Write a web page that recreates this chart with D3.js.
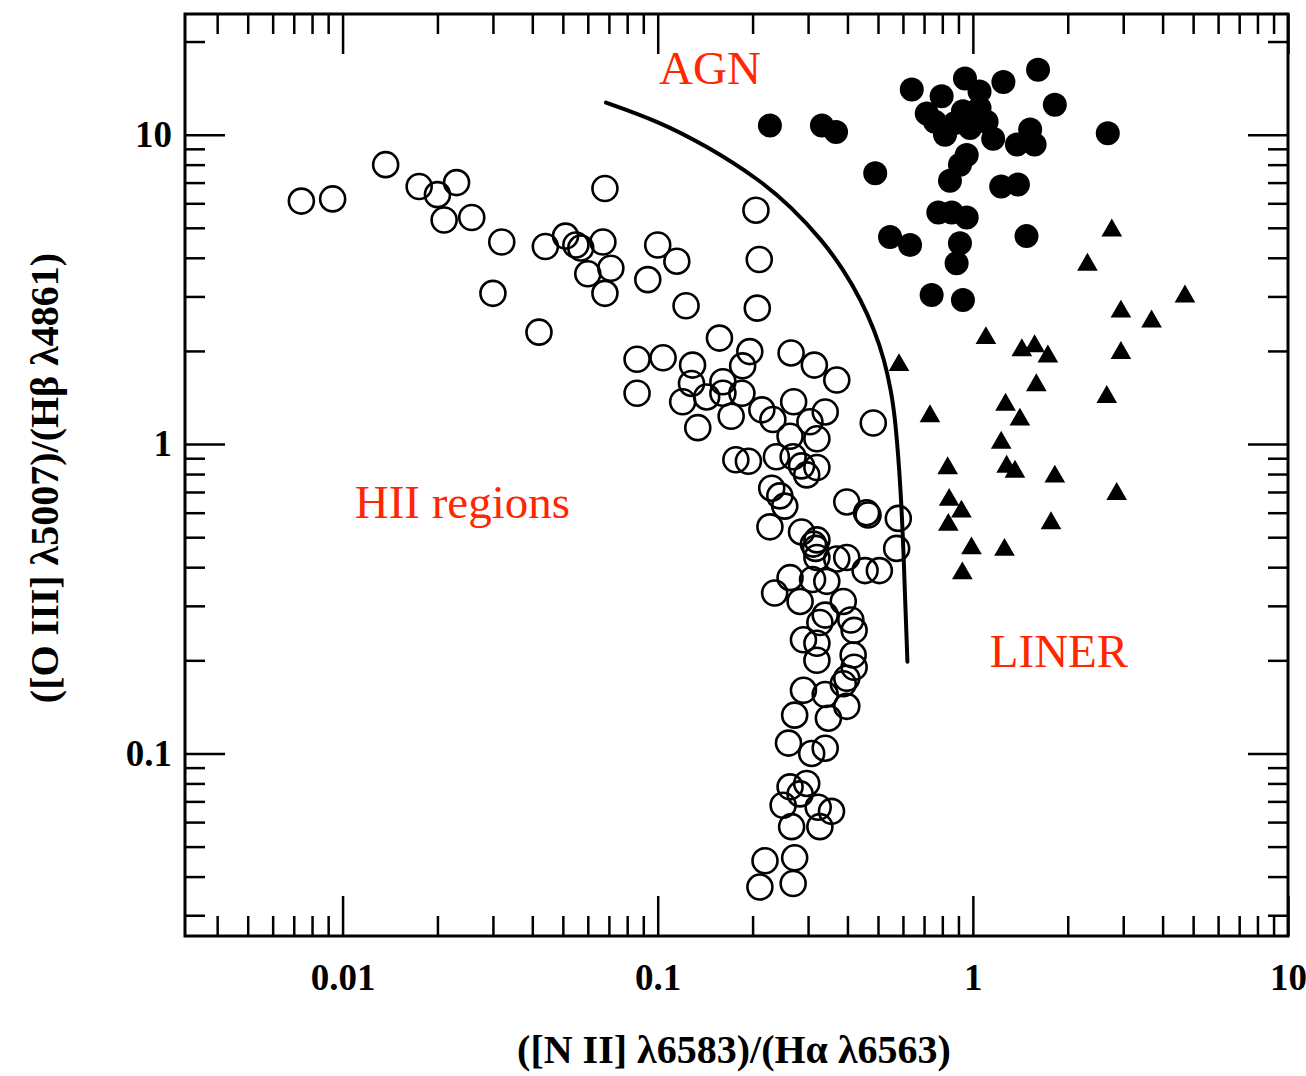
<!DOCTYPE html>
<html>
<head>
<meta charset="utf-8">
<script src="https://cdn.jsdelivr.net/npm/d3@7"></script>
<style>
  body { margin: 0; background: #fff; }
  text { font-family: "Liberation Serif", "Times New Roman", serif; }
</style>
</head>
<body>
<div id="canvas"></div>
<script>
// HII regions (open circles)
var hiiX = [0.0074, 0.0093, 0.0137, 0.0175, 0.020, 0.023, 0.021, 0.0257, 0.032, 0.044,
  0.051, 0.055, 0.057, 0.067, 0.060, 0.071, 0.068, 0.068, 0.030, 0.042,
  0.10, 0.115, 0.093, 0.205, 0.21, 0.123, 0.207, 0.157, 0.086, 0.104,
  0.129, 0.196, 0.186, 0.265, 0.314, 0.37, 0.086, 0.128, 0.12, 0.143,
  0.161, 0.161, 0.185, 0.171, 0.134, 0.214, 0.232, 0.27, 0.34, 0.304,
  0.32, 0.263, 0.483, 0.177, 0.194, 0.238, 0.269, 0.32, 0.286, 0.297,
  0.23, 0.244, 0.253, 0.227, 0.398, 0.46, 0.465, 0.58, 0.286, 0.32,
  0.317, 0.32, 0.312, 0.573, 0.398, 0.37, 0.505, 0.455, 0.263, 0.235,
  0.283, 0.31, 0.344, 0.388, 0.34, 0.327, 0.41, 0.42, 0.29, 0.32,
  0.32, 0.417, 0.42, 0.398, 0.388, 0.29, 0.34, 0.398, 0.348, 0.272,
  0.26, 0.308, 0.34, 0.263, 0.297, 0.283, 0.25, 0.323, 0.356, 0.327,
  0.266, 0.272, 0.219, 0.211, 0.269];
var hiiY = [6.1, 6.2, 8.0, 6.8, 6.4, 7.0, 5.3, 5.4, 4.5, 4.35,
  4.7, 4.4, 4.3, 4.5, 3.55, 3.7, 3.07, 6.7, 3.07, 2.3,
  4.4, 3.9, 3.4, 5.7, 3.95, 2.8, 2.75, 2.2, 1.88, 1.9,
  1.8, 1.99, 1.79, 1.97, 1.8, 1.61, 1.46, 1.57, 1.37, 1.42,
  1.59, 1.46, 1.46, 1.23, 1.13, 1.29, 1.2, 1.37, 1.27, 1.18,
  1.04, 1.06, 1.17, 0.89, 0.88, 0.91, 0.91, 0.84, 0.85, 0.795,
  0.72, 0.68, 0.63, 0.54, 0.65, 0.60, 0.59, 0.575, 0.52, 0.49,
  0.46, 0.43, 0.475, 0.46, 0.43, 0.425, 0.39, 0.39, 0.37, 0.33,
  0.31, 0.365, 0.36, 0.31, 0.28, 0.265, 0.27, 0.25, 0.233, 0.227,
  0.20, 0.208, 0.19, 0.175, 0.168, 0.16, 0.155, 0.142, 0.13, 0.133,
  0.108, 0.10, 0.104, 0.078, 0.080, 0.074, 0.068, 0.067, 0.065, 0.058,
  0.058, 0.046, 0.045, 0.037, 0.038];

// AGN / Seyfert (filled circles)
var agnX = [0.227, 0.332, 0.368, 0.49, 0.546, 0.632, 0.64, 0.796, 0.714, 0.758,
  0.816, 0.944, 1.05, 1.25, 1.61, 1.82, 0.93, 1.05, 1.106, 0.98,
  1.16, 1.52, 1.38, 1.57, 0.956, 0.91, 0.846, 1.23, 1.39, 0.777,
  0.857, 0.956, 1.48, 0.91, 0.888, 0.74, 0.93, 2.68, 0.877, 1.0];
var agnY = [10.7, 10.7, 10.2, 7.5, 4.67, 4.4, 14.0, 13.3, 11.7, 11.0,
  10.0, 15.2, 13.8, 14.8, 16.2, 12.5, 11.9, 12.2, 11.0, 10.5,
  9.7, 10.4, 9.3, 9.3, 8.6, 8.0, 7.1, 6.8, 6.9, 5.6,
  5.6, 5.4, 4.7, 4.46, 3.84, 3.03, 2.92, 10.1, 10.9, 11.5];

// LINER (filled triangles)
var linerX = [2.76, 2.31, 4.71, 2.95, 3.69, 1.10, 1.43, 1.57, 1.73, 2.95,
  0.583, 1.59, 2.66, 1.27, 1.41, 0.731, 1.23, 0.832, 1.28, 1.36,
  1.82, 2.86, 0.841, 0.92, 0.836, 1.77, 0.99, 1.26, 0.926];
var linerY = [4.9, 3.8, 3.0, 2.68, 2.49, 2.2, 2.01, 2.07, 1.92, 1.97,
  1.8, 1.55, 1.42, 1.34, 1.2, 1.23, 1.01, 0.835, 0.845, 0.814,
  0.785, 0.69, 0.66, 0.605, 0.548, 0.555, 0.46, 0.455, 0.382];

// dividing curve between HII regions and AGN/LINER
var curveX = [0.0685, 0.0994, 0.143, 0.211, 0.265, 0.332, 0.389, 0.4415, 0.487, 0.524,
  0.5495, 0.568, 0.591, 0.604, 0.613, 0.62];
var curveY = [12.7, 11.1, 9.2, 7.14, 5.84, 4.57, 3.654, 2.922, 2.338, 1.87,
  1.496, 1.2, 0.71, 0.42, 0.27, 0.198];

var xMajor = [0.01, 0.1, 1, 10];
var xTickLabels = ["0.01", "0.1", "1", "10"];
var yMajor = [0.1, 1, 10];
var yTickLabels = ["0.1", "1", "10"];

var labelText = ["AGN", "HII regions", "LINER"];
var labelX = [0.1465, 0.024, 1.876];
var labelY = [14.6, 0.577, 0.19];

var xTitle = "([N II] \u03bb6583)/(H\u03b1 \u03bb6563)";
var yTitle = "([O III] \u03bb5007)/(H\u03b2 \u03bb4861)";

var W = 1306, H = 1076;
var L = 185, R = 1288, T = 14, B = 936;

var svg = d3.select("#canvas").append("svg")
  .attr("width", W).attr("height", H)
  .style("background", "#fff");

var x = d3.scaleLog().domain([Math.pow(10, -2.5), 10]).range([L, R]);
var y = d3.scaleLog().domain([Math.pow(10, -1.59), Math.pow(10, 1.39)]).range([B, T]);

var xMinor = x.ticks().filter(function(d) { return xMajor.indexOf(+d.toPrecision(6)) < 0; });
var yMinor = y.ticks().filter(function(d) { return yMajor.indexOf(+d.toPrecision(6)) < 0; });

function fmt(majors, labels) {
  return function(d) { return labels[majors.indexOf(d)]; };
}

function styleAxis(g) {
  g.select(".domain").remove();
  g.selectAll(".tick line").attr("stroke", "#000").attr("stroke-width", 2.5);
  g.selectAll(".tick text")
    .attr("fill", "#000")
    .style("font-family", "'Liberation Serif', 'Times New Roman', serif")
    .style("font-weight", "bold")
    .style("font-size", "37px");
}

// bottom
svg.append("g").attr("transform", "translate(0," + B + ")")
  .call(d3.axisBottom(x).tickValues(xMinor).tickSize(-20).tickFormat(""))
  .call(styleAxis);
svg.append("g").attr("transform", "translate(0," + B + ")")
  .call(d3.axisBottom(x).tickValues(xMajor).tickSize(-40).tickPadding(28).tickFormat(fmt(xMajor, xTickLabels)))
  .call(styleAxis);
// top
svg.append("g").attr("transform", "translate(0," + T + ")")
  .call(d3.axisTop(x).tickValues(xMinor).tickSize(-20).tickFormat(""))
  .call(styleAxis);
svg.append("g").attr("transform", "translate(0," + T + ")")
  .call(d3.axisTop(x).tickValues(xMajor).tickSize(-40).tickFormat(""))
  .call(styleAxis);
// left
svg.append("g").attr("transform", "translate(" + L + ",0)")
  .call(d3.axisLeft(y).tickValues(yMinor).tickSize(-20).tickFormat(""))
  .call(styleAxis);
svg.append("g").attr("transform", "translate(" + L + ",0)")
  .call(d3.axisLeft(y).tickValues(yMajor).tickSize(-40).tickPadding(13).tickFormat(fmt(yMajor, yTickLabels)))
  .call(styleAxis);
// right
svg.append("g").attr("transform", "translate(" + R + ",0)")
  .call(d3.axisRight(y).tickValues(yMinor).tickSize(-20).tickFormat(""))
  .call(styleAxis);
svg.append("g").attr("transform", "translate(" + R + ",0)")
  .call(d3.axisRight(y).tickValues(yMajor).tickSize(-40).tickFormat(""))
  .call(styleAxis);

// frame
svg.append("rect")
  .attr("x", L).attr("y", T)
  .attr("width", R - L).attr("height", B - T)
  .attr("fill", "none").attr("stroke", "#000").attr("stroke-width", 3);

// curve
var curvePts = curveX.map(function(d, i) { return [d, curveY[i]]; });
svg.append("path")
  .datum(curvePts)
  .attr("fill", "none")
  .attr("stroke", "#000")
  .attr("stroke-width", 4)
  .attr("stroke-linecap", "round")
  .attr("d", d3.line()
    .x(function(d) { return x(d[0]); })
    .y(function(d) { return y(d[1]); })
    .curve(d3.curveBasis));

// points
svg.append("g").selectAll("circle")
  .data(hiiX.map(function(d, i) { return [d, hiiY[i]]; }))
  .join("circle")
  .attr("cx", function(d) { return x(d[0]); })
  .attr("cy", function(d) { return y(d[1]); })
  .attr("r", 12.5)
  .attr("fill", "none")
  .attr("stroke", "#000")
  .attr("stroke-width", 2.6);

svg.append("g").selectAll("circle")
  .data(agnX.map(function(d, i) { return [d, agnY[i]]; }))
  .join("circle")
  .attr("cx", function(d) { return x(d[0]); })
  .attr("cy", function(d) { return y(d[1]); })
  .attr("r", 12)
  .attr("fill", "#000");

var tri = d3.symbol().type(d3.symbolTriangle).size(185);
svg.append("g").selectAll("path")
  .data(linerX.map(function(d, i) { return [d, linerY[i]]; }))
  .join("path")
  .attr("transform", function(d) { return "translate(" + x(d[0]) + "," + y(d[1]) + ")"; })
  .attr("d", tri)
  .attr("fill", "#000");

// region labels
svg.append("g").selectAll("text")
  .data(labelText)
  .join("text")
  .attr("x", function(d, i) { return x(labelX[i]); })
  .attr("y", function(d, i) { return y(labelY[i]); })
  .attr("text-anchor", "middle")
  .attr("fill", "#ff2600")
  .style("font-size", "47px")
  .text(function(d) { return d; });

// axis titles
svg.append("text")
  .attr("x", 734)
  .attr("y", 1063)
  .attr("text-anchor", "middle")
  .style("font-size", "40px")
  .style("font-weight", "bold")
  .text(xTitle);

svg.append("text")
  .attr("transform", "translate(44," + 478 + ") rotate(-90)")
  .attr("text-anchor", "middle")
  .attr("dy", "0.35em")
  .style("font-size", "40px")
  .style("font-weight", "bold")
  .text(yTitle);
</script>
</body>
</html>
